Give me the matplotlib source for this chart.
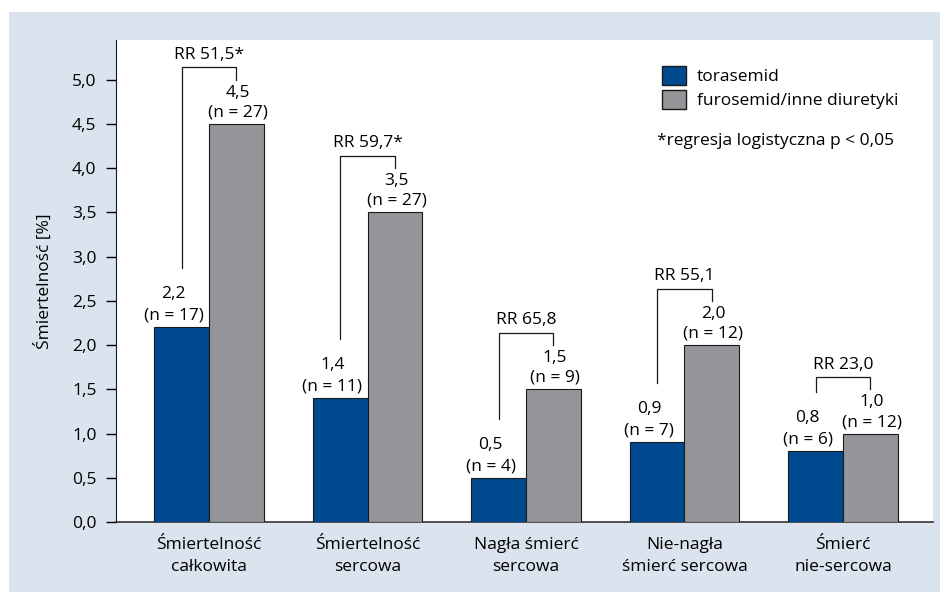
import matplotlib
matplotlib.use("Agg")
import matplotlib.pyplot as plt
from matplotlib.patches import Rectangle, Patch
import numpy as np

plt.rcParams['font.family'] = ['Open Sans', 'DejaVu Sans']
plt.rcParams['font.size'] = 12.5

categories = ["Śmiertelność\ncałkowita", "Śmiertelność\nsercowa", "Nagła śmierć\nsercowa",
              "Nie-nagła\nśmierć sercowa", "Śmierć\nnie-sercowa"]
torasemid = [2.2, 1.4, 0.5, 0.9, 0.8]
furosemid = [4.5, 3.5, 1.5, 2.0, 1.0]
n_tor = [17, 11, 4, 7, 6]
n_fur = [27, 27, 9, 12, 12]
rr_labels = ["RR 51,5*", "RR 59,7*", "RR 65,8", "RR 55,1", "RR 23,0"]
yticks = [0.0, 0.5, 1.0, 1.5, 2.0, 2.5, 3.0, 3.5, 4.0, 4.5, 5.0]

BLUE = "#00498f"
GRAY = "#949599"
BG = "#dae3ee"

fig = plt.figure(figsize=(9.4, 5.92), dpi=100)
fig.patches.append(Rectangle((9 / 940, 0), 1, 1 - 12 / 592, transform=fig.transFigure,
                             facecolor=BG, edgecolor="none", zorder=-10))
ax = fig.add_axes([116 / 940, 1 - 522 / 592, (933 - 116) / 940, (522 - 40) / 592])
ax.set_facecolor("white")

x = np.arange(len(categories))
w = 0.345
ax.bar(x - w / 2, torasemid, w, color=BLUE, edgecolor="#1a1a1a", linewidth=0.8, zorder=3)
ax.bar(x + w / 2, furosemid, w, color=GRAY, edgecolor="#1a1a1a", linewidth=0.8, zorder=3)

def fmt(v):
    return f"{v:.1f}".replace(".", ",")

for i in range(len(categories)):
    xb, xg = x[i] - w / 2, x[i] + w / 2
    ax.text(xb - 0.05, torasemid[i] + 0.04, fmt(torasemid[i]) + f"\n(n = {n_tor[i]})",
            ha="center", va="bottom", linespacing=1.45, zorder=4,
            bbox=dict(facecolor="white", edgecolor="none", pad=0.5))
    ax.text(xg + 0.01, furosemid[i] + 0.04, fmt(furosemid[i]) + f"\n(n = {n_fur[i]})",
            ha="center", va="bottom", linespacing=1.3, zorder=4)
    top = furosemid[i] + 0.64
    left_bot = torasemid[i] + 0.67
    right_bot = top - 0.14
    ax.plot([xb, xb, xg, xg], [left_bot, top, top, right_bot], color="#1a1a1a", lw=0.9, zorder=2)
    ax.text(x[i], top + 0.05, rr_labels[i], ha="center", va="bottom")

ax.set_xlim(-0.587, 4.568)
ax.set_ylim(0, 5.45)
ax.set_yticks(yticks)
ax.set_yticklabels([fmt(t) for t in yticks])
ax.set_xticks(x)
ax.set_xticklabels(categories, linespacing=1.45)
ax.tick_params(axis="x", length=0, pad=11)
ax.tick_params(axis="y", length=7, width=1, pad=7, direction="out")
ax.set_ylabel("Śmiertelność [%]", labelpad=14)
for s in ["top", "right"]:
    ax.spines[s].set_visible(False)
ax.spines["left"].set_color("#1a1a1a")
ax.spines["bottom"].set_color("#333333")
ax.spines["bottom"].set_linewidth(1.2)

handles = [Patch(facecolor=BLUE, edgecolor="#1a1a1a", label="torasemid"),
           Patch(facecolor=GRAY, edgecolor="#1a1a1a", label="furosemid/inne diuretyki")]
ax.legend(handles=handles, loc="upper left", bbox_to_anchor=(0.660, 0.96), frameon=False,
          handlelength=1.4, handleheight=1.25, handletextpad=0.6, labelspacing=0.3, borderaxespad=0)
ax.text(0.662, 0.79, "*regresja logistyczna p < 0,05", transform=ax.transAxes, ha="left", va="center")

fig.savefig("out.png", dpi=100)
